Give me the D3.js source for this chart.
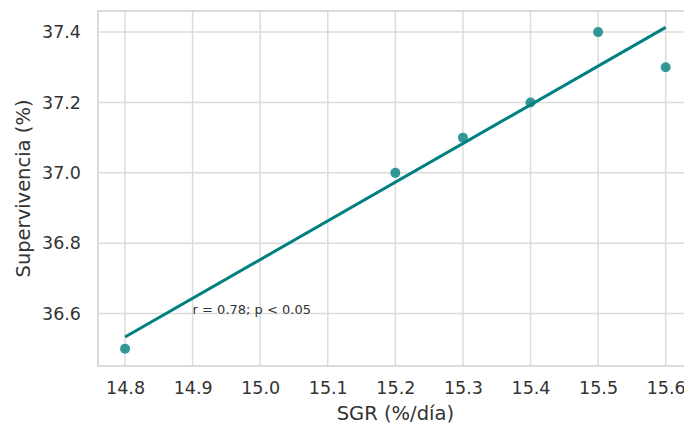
<!DOCTYPE html>
<html>
<head>
<meta charset="utf-8">
<script src="https://cdn.jsdelivr.net/npm/d3@7"></script>
<style>
  body { margin: 0; background: #fff; }
  svg { display: block; font-family: "DejaVu Sans", sans-serif; }
</style>
</head>
<body>
<div id="chart"></div>
<script>
// data
const sgr = [14.8, 15.2, 15.3, 15.4, 15.5, 15.6];
const supervivencia = [36.5, 37.0, 37.1, 37.2, 37.4, 37.3];
const xTicks = [14.8, 14.9, 15.0, 15.1, 15.2, 15.3, 15.4, 15.5, 15.6];
const yTicks = [36.6, 36.8, 37.0, 37.2, 37.4];
const note = 'r = 0.78; p < 0.05';

const width = 684, height = 425;
const plotLeft = 98, plotTop = 11, plotBottom = 366, plotRight = 692.7;

const svg = d3.select('#chart').append('svg')
    .attr('width', width)
    .attr('height', height);

const x = d3.scaleLinear().domain([14.76, 15.64]).range([plotLeft, plotRight]);
const y = d3.scaleLinear().domain([36.451, 37.46]).range([plotBottom, plotTop]);

const grid = '#dcdcdc';

// grid lines
svg.append('g').selectAll('line').data(xTicks).enter().append('line')
    .attr('x1', d => x(d)).attr('x2', d => x(d))
    .attr('y1', plotTop).attr('y2', plotBottom)
    .attr('stroke', grid).attr('stroke-width', 1.5);
svg.append('g').selectAll('line').data(yTicks).enter().append('line')
    .attr('x1', plotLeft).attr('x2', plotRight)
    .attr('y1', d => y(d)).attr('y2', d => y(d))
    .attr('stroke', grid).attr('stroke-width', 1.5);

// frame
svg.append('rect')
    .attr('x', plotLeft).attr('y', plotTop)
    .attr('width', plotRight - plotLeft).attr('height', plotBottom - plotTop)
    .attr('fill', 'none').attr('stroke', '#d0d0d0').attr('stroke-width', 1.5);

// axes (tick labels only, seaborn whitegrid style)
const xAxis = svg.append('g')
    .attr('transform', `translate(0,${plotBottom})`)
    .call(d3.axisBottom(x).tickValues(xTicks).tickFormat(d3.format('.1f')).tickSize(0).tickPadding(16));
const yAxis = svg.append('g')
    .attr('transform', `translate(${plotLeft},0)`)
    .call(d3.axisLeft(y).tickValues(yTicks).tickFormat(d3.format('.1f')).tickSize(0).tickPadding(17));
[xAxis, yAxis].forEach(a => {
    a.select('.domain').remove();
    a.selectAll('text')
        .attr('fill', '#333')
        .style('font-size', '17.5px')
        .style('font-family', '"DejaVu Sans", sans-serif');
});

// points
svg.append('g').selectAll('circle')
    .data(sgr.map((v, i) => [v, supervivencia[i]]))
    .enter().append('circle')
    .attr('cx', d => x(d[0]))
    .attr('cy', d => y(d[1]))
    .attr('r', 5)
    .attr('fill', '#008080')
    .attr('fill-opacity', 0.8);

// least squares fit
const mx = d3.mean(sgr), my = d3.mean(supervivencia);
let sxy = 0, sxx = 0;
sgr.forEach((v, i) => { sxy += (v - mx) * (supervivencia[i] - my); sxx += (v - mx) * (v - mx); });
const slope = sxy / sxx, icpt = my - slope * mx;
const xs = d3.extent(sgr);
svg.append('line')
    .attr('x1', x(xs[0])).attr('y1', y(icpt + slope * xs[0]))
    .attr('x2', x(xs[1])).attr('y2', y(icpt + slope * xs[1]))
    .attr('stroke', '#008080')
    .attr('stroke-width', 3);

// annotation
svg.append('text')
    .attr('x', x(14.9))
    .attr('y', y(36.6))
    .attr('fill', '#333')
    .style('font-size', '13px')
    .text(note);

// axis labels
svg.append('text')
    .attr('x', (plotLeft + plotRight) / 2)
    .attr('y', 420)
    .attr('text-anchor', 'middle')
    .attr('fill', '#333')
    .style('font-size', '19.5px')
    .text('SGR (%/día)');
svg.append('text')
    .attr('transform', `translate(30,${(plotTop + plotBottom) / 2}) rotate(-90)`)
    .attr('text-anchor', 'middle')
    .attr('fill', '#333')
    .style('font-size', '19.5px')
    .text('Supervivencia (%)');
</script>
</body>
</html>
